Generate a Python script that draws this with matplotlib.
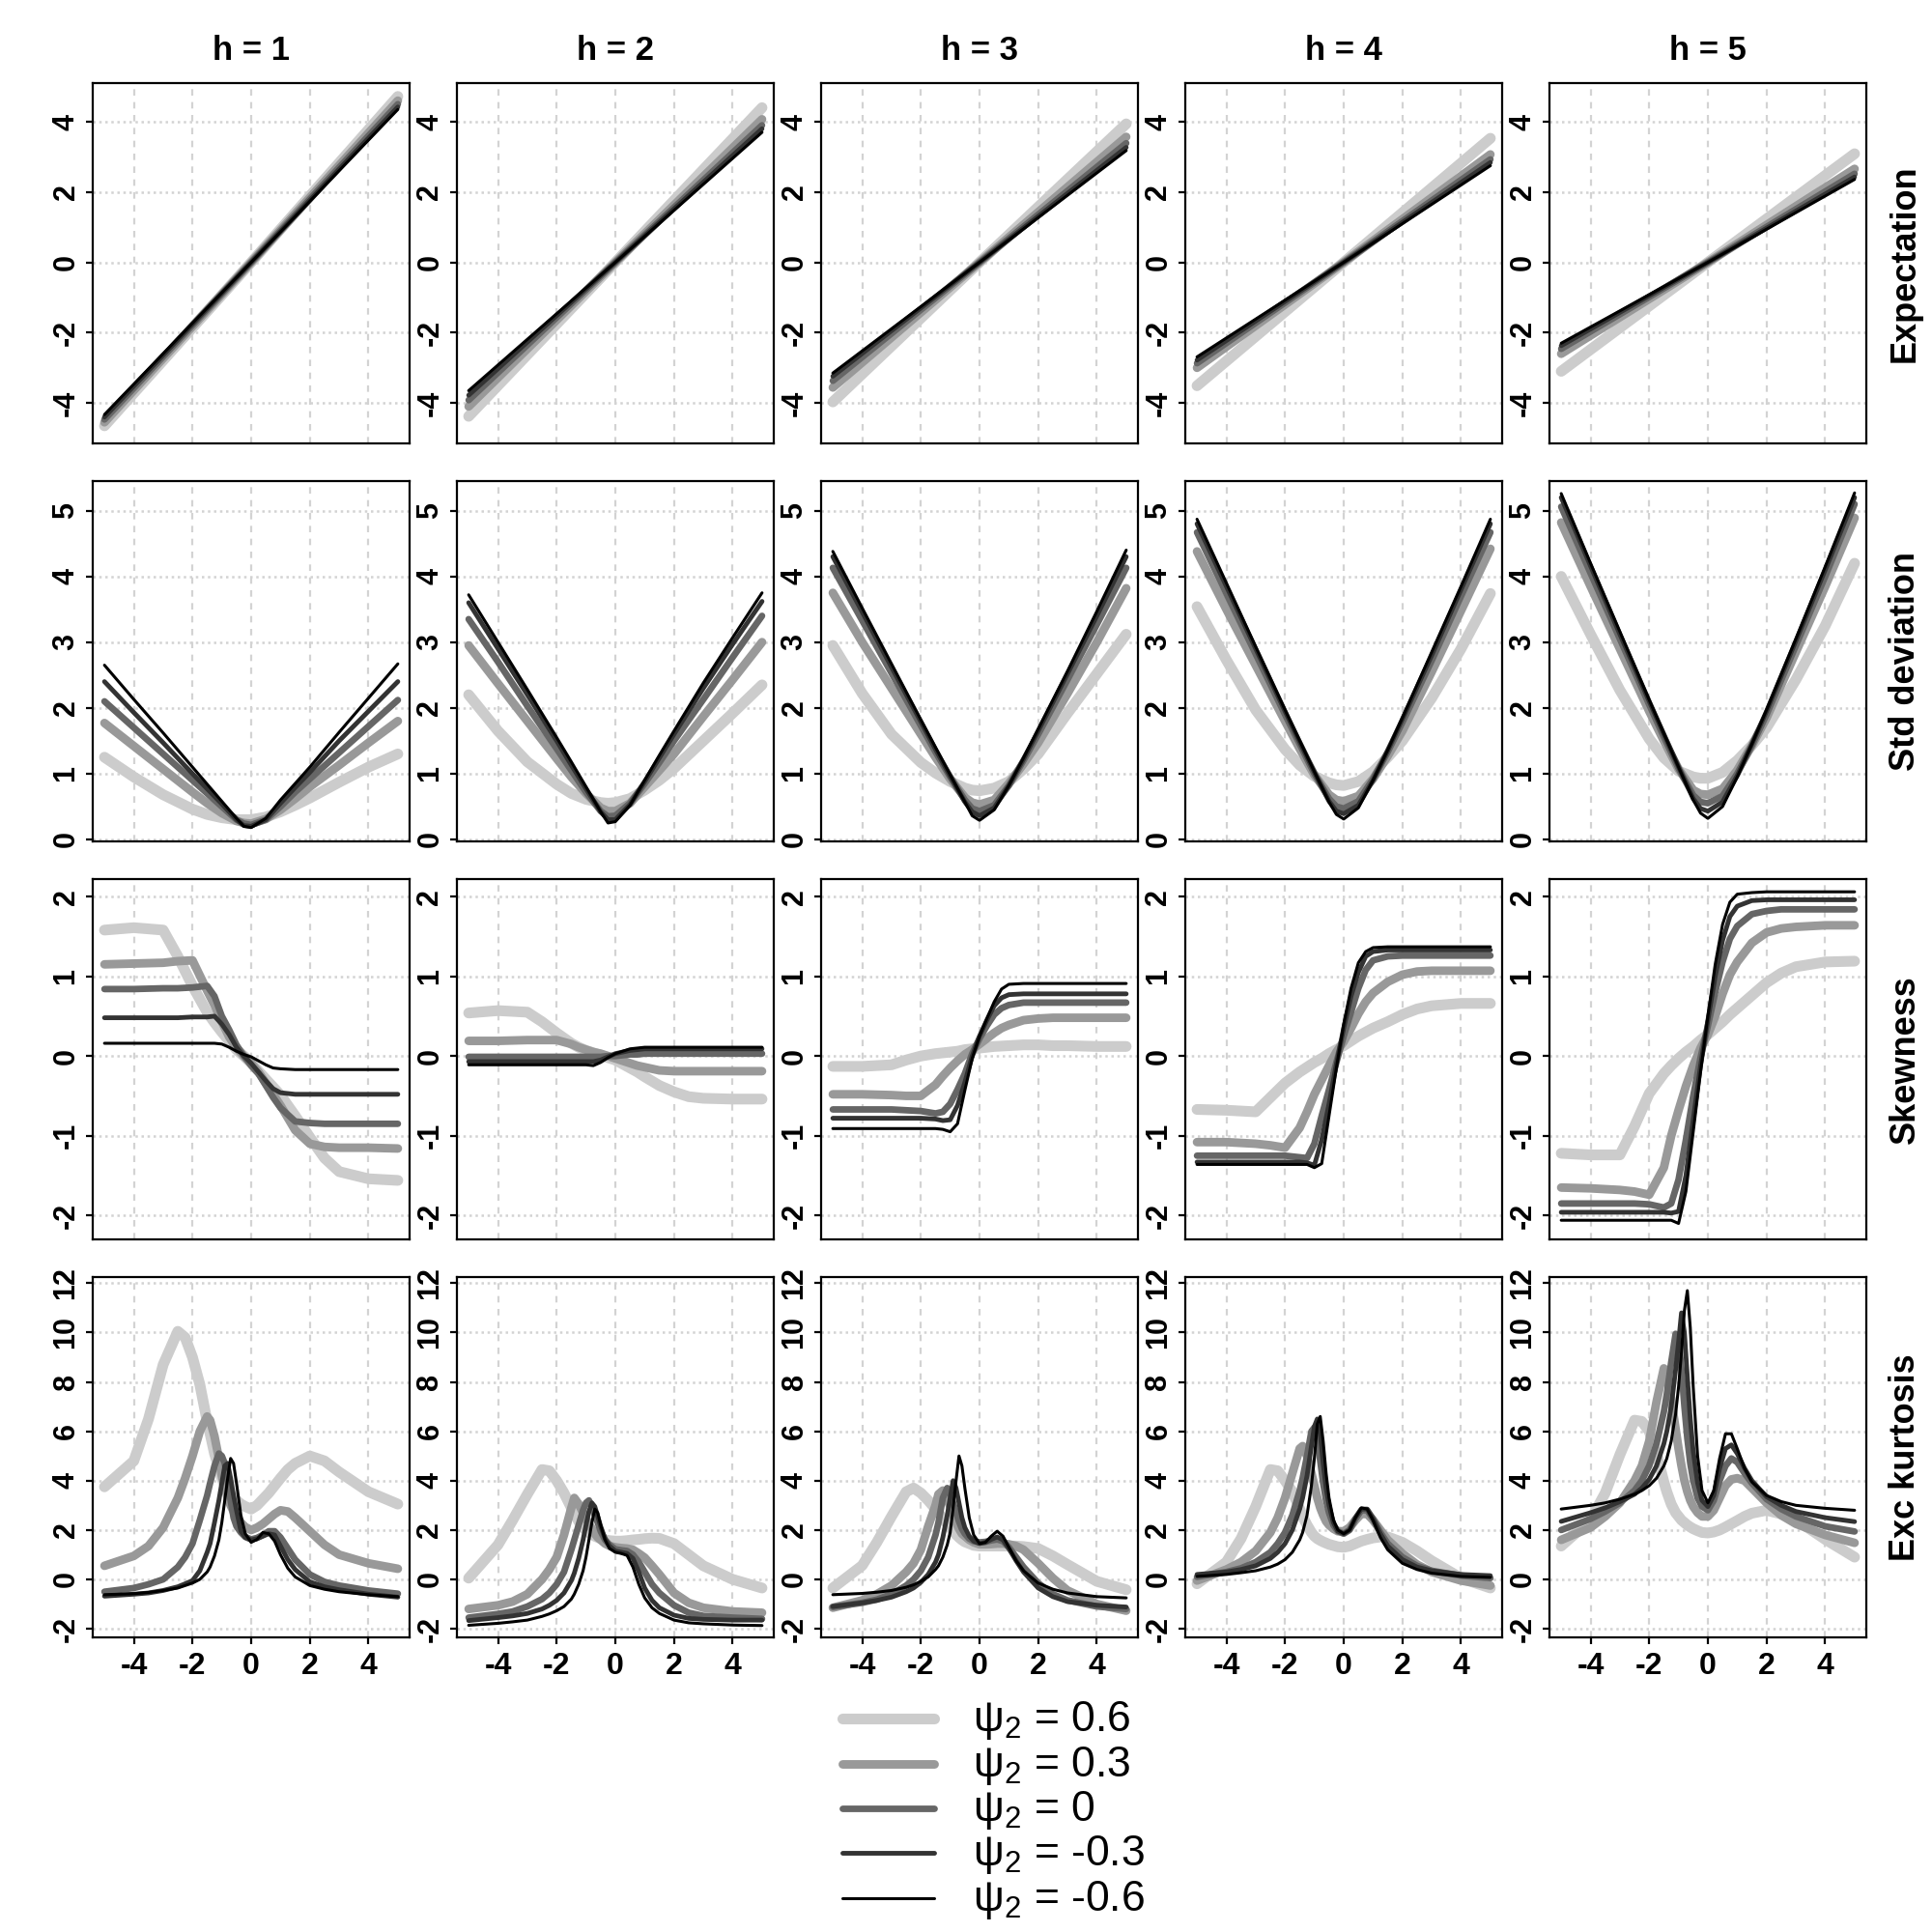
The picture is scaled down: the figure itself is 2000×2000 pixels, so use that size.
import matplotlib
matplotlib.use('Agg')
import matplotlib.pyplot as plt
from matplotlib.lines import Line2D

plt.rcParams['font.family'] = ['Liberation Sans', 'DejaVu Sans']
plt.rcParams['mathtext.fontset'] = 'custom'
plt.rcParams['mathtext.rm'] = 'Liberation Sans'
plt.rcParams['mathtext.it'] = 'Liberation Sans:italic'

# psi_2 values, drawn light/thick -> dark/thin
psi_labels = ['0.6', '0.3', '0', '-0.3', '-0.6']
line_colors = ['#cccccc', '#999999', '#666666', '#333333', '#000000']
line_widths = [4.0, 3.2, 2.45, 1.75, 1.1]
horizons = [1, 2, 3, 4, 5]
row_names = ['Expectation', 'Std deviation', 'Skewness', 'Exc kurtosis']

# ---- Expectation ----
xs_mean = [-5, 0, 5]
mean_h1 = [[-4.65, 0, 4.72], [-4.55, 0, 4.6], [-4.47, 0, 4.5], [-4.4, 0, 4.42], [-4.33, 0, 4.35]]
mean_h2 = [[-4.38, 0, 4.4], [-4.1, 0, 4.07], [-3.92, 0, 3.9], [-3.78, 0, 3.8], [-3.65, 0, 3.7]]
mean_h3 = [[-3.97, 0, 3.94], [-3.56, 0, 3.57], [-3.37, 0, 3.39], [-3.24, 0, 3.27], [-3.15, 0, 3.18]]
mean_h4 = [[-3.51, 0, 3.53], [-3.0, 0, 3.07], [-2.87, 0, 2.93], [-2.78, 0, 2.84], [-2.69, 0, 2.75]]
mean_h5 = [[-3.1, 0, 3.09], [-2.6, 0, 2.66], [-2.46, 0, 2.52], [-2.37, 0, 2.43], [-2.3, 0, 2.36]]

# ---- Std deviation ----
xs_std = [-5, -4, -3, -2, -1.5, -1, -0.5, -0.25, 0, 0.5, 1, 1.5, 2, 3, 4, 5]
std_h1 = [
    [1.25, 0.95, 0.68, 0.46, 0.38, 0.33, 0.3, 0.3, 0.3, 0.34, 0.42, 0.52, 0.63, 0.87, 1.1, 1.3],
    [1.77, 1.42, 1.07, 0.72, 0.55, 0.4, 0.28, 0.25, 0.24, 0.31, 0.45, 0.62, 0.8, 1.13, 1.47, 1.8],
    [2.1, 1.7, 1.3, 0.9, 0.7, 0.5, 0.3, 0.24, 0.22, 0.3, 0.5, 0.72, 0.92, 1.32, 1.72, 2.12],
    [2.4, 1.93, 1.47, 1.0, 0.77, 0.54, 0.3, 0.21, 0.2, 0.3, 0.55, 0.79, 1.02, 1.5, 1.95, 2.4],
    [2.65, 2.13, 1.62, 1.1, 0.84, 0.58, 0.32, 0.2, 0.18, 0.32, 0.6, 0.85, 1.1, 1.63, 2.15, 2.67],
]
std_h2 = [
    [2.2, 1.65, 1.18, 0.84, 0.7, 0.61, 0.56, 0.55, 0.56, 0.62, 0.75, 0.9, 1.08, 1.5, 1.92, 2.35],
    [2.95, 2.37, 1.8, 1.23, 0.95, 0.7, 0.48, 0.43, 0.43, 0.55, 0.8, 1.05, 1.3, 1.87, 2.43, 3.0],
    [3.35, 2.7, 2.03, 1.38, 1.05, 0.72, 0.43, 0.35, 0.36, 0.55, 0.85, 1.17, 1.5, 2.13, 2.77, 3.4],
    [3.6, 2.9, 2.2, 1.5, 1.13, 0.77, 0.42, 0.3, 0.3, 0.53, 0.88, 1.24, 1.6, 2.3, 2.97, 3.62],
    [3.72, 3.0, 2.28, 1.55, 1.18, 0.8, 0.42, 0.25, 0.27, 0.52, 0.9, 1.28, 1.65, 2.38, 3.07, 3.75],
]
std_h3 = [
    [2.95, 2.22, 1.6, 1.17, 1.01, 0.88, 0.78, 0.75, 0.74, 0.78, 0.88, 1.07, 1.3, 1.92, 2.52, 3.12],
    [3.75, 3.0, 2.3, 1.6, 1.25, 0.92, 0.64, 0.56, 0.53, 0.6, 0.85, 1.15, 1.47, 2.22, 3.0, 3.82],
    [4.13, 3.33, 2.53, 1.73, 1.33, 0.95, 0.6, 0.47, 0.43, 0.52, 0.82, 1.2, 1.6, 2.43, 3.27, 4.13],
    [4.3, 3.46, 2.62, 1.79, 1.37, 0.96, 0.57, 0.42, 0.36, 0.48, 0.82, 1.22, 1.65, 2.52, 3.4, 4.3],
    [4.38, 3.52, 2.67, 1.82, 1.4, 0.98, 0.57, 0.36, 0.29, 0.45, 0.82, 1.24, 1.68, 2.56, 3.47, 4.4],
]
std_h4 = [
    [3.54, 2.73, 1.97, 1.37, 1.13, 0.96, 0.86, 0.83, 0.82, 0.88, 1.03, 1.25, 1.5, 2.15, 2.9, 3.74],
    [4.38, 3.5, 2.65, 1.8, 1.38, 0.98, 0.68, 0.6, 0.58, 0.66, 0.92, 1.27, 1.65, 2.55, 3.48, 4.42],
    [4.67, 3.74, 2.82, 1.9, 1.45, 1.0, 0.62, 0.5, 0.47, 0.58, 0.92, 1.33, 1.78, 2.72, 3.7, 4.67],
    [4.8, 3.85, 2.9, 1.95, 1.48, 1.02, 0.58, 0.43, 0.39, 0.52, 0.9, 1.35, 1.83, 2.8, 3.8, 4.8],
    [4.87, 3.9, 2.93, 1.97, 1.5, 1.03, 0.57, 0.38, 0.31, 0.48, 0.9, 1.36, 1.85, 2.85, 3.85, 4.87],
]
std_h5 = [
    [4.0, 3.12, 2.27, 1.53, 1.24, 1.04, 0.95, 0.93, 0.93, 1.02, 1.2, 1.43, 1.7, 2.43, 3.25, 4.2],
    [4.82, 3.85, 2.9, 1.95, 1.5, 1.07, 0.75, 0.69, 0.68, 0.77, 1.05, 1.43, 1.85, 2.85, 3.85, 4.89],
    [5.06, 4.05, 3.05, 2.05, 1.56, 1.08, 0.67, 0.57, 0.55, 0.66, 1.0, 1.43, 1.9, 2.95, 4.0, 5.1],
    [5.2, 4.16, 3.12, 2.1, 1.6, 1.1, 0.62, 0.47, 0.43, 0.57, 0.97, 1.45, 1.95, 3.02, 4.1, 5.2],
    [5.26, 4.2, 3.16, 2.12, 1.61, 1.1, 0.6, 0.4, 0.32, 0.5, 0.95, 1.45, 1.97, 3.05, 4.15, 5.27],
]

# ---- Skewness ----
xs_skew = [-5, -4, -3, -2.5, -2, -1.5, -1.25, -1, -0.75, -0.5, -0.25, 0, 0.25, 0.5, 0.75, 1, 1.5, 2, 2.5, 3, 4, 5]
skew_h1 = [
    [1.58, 1.61, 1.58, 1.25, 0.88, 0.55, 0.42, 0.3, 0.19, 0.08, 0.0, -0.09, -0.19, -0.29, -0.39, -0.49, -0.75, -1.02, -1.28, -1.45, -1.54, -1.56],
    [1.15, 1.16, 1.17, 1.19, 1.2, 0.82, 0.64, 0.43, 0.24, 0.1, 0.0, -0.09, -0.2, -0.34, -0.48, -0.62, -0.93, -1.1, -1.14, -1.15, -1.15, -1.16],
    [0.84, 0.84, 0.85, 0.85, 0.86, 0.88, 0.75, 0.5, 0.33, 0.14, 0.0, -0.12, -0.22, -0.37, -0.52, -0.65, -0.82, -0.84, -0.85, -0.85, -0.85, -0.85],
    [0.48, 0.48, 0.48, 0.48, 0.49, 0.49, 0.5, 0.4, 0.27, 0.11, 0.0, -0.09, -0.2, -0.31, -0.41, -0.46, -0.48, -0.48, -0.48, -0.48, -0.48, -0.48],
    [0.16, 0.16, 0.16, 0.16, 0.16, 0.16, 0.16, 0.15, 0.11, 0.06, 0.02, -0.01, -0.06, -0.11, -0.15, -0.16, -0.17, -0.17, -0.17, -0.17, -0.17, -0.17],
]
skew_h2 = [
    [0.54, 0.57, 0.55, 0.43, 0.29, 0.16, 0.11, 0.07, 0.04, 0.01, -0.02, -0.05, -0.1, -0.15, -0.2, -0.26, -0.37, -0.45, -0.51, -0.53, -0.54, -0.54],
    [0.19, 0.19, 0.2, 0.2, 0.2, 0.15, 0.11, 0.08, 0.05, 0.03, 0.0, -0.03, -0.06, -0.09, -0.12, -0.14, -0.18, -0.19, -0.19, -0.19, -0.19, -0.19],
    [-0.01, -0.01, -0.01, -0.01, -0.01, -0.01, -0.01, -0.01, -0.01, -0.01, 0.0, 0.0, 0.01, 0.02, 0.02, 0.03, 0.03, 0.03, 0.03, 0.03, 0.03, 0.03],
    [-0.07, -0.07, -0.07, -0.07, -0.07, -0.07, -0.07, -0.07, -0.07, -0.05, -0.01, 0.03, 0.05, 0.07, 0.08, 0.09, 0.09, 0.09, 0.09, 0.09, 0.09, 0.09],
    [-0.11, -0.11, -0.11, -0.11, -0.11, -0.11, -0.11, -0.11, -0.12, -0.08, -0.02, 0.03, 0.06, 0.09, 0.1, 0.11, 0.11, 0.11, 0.11, 0.11, 0.11, 0.11],
]
skew_h3 = [
    [-0.13, -0.13, -0.11, -0.05, 0.0, 0.03, 0.04, 0.05, 0.06, 0.08, 0.09, 0.1, 0.11, 0.12, 0.125, 0.13, 0.14, 0.14, 0.13, 0.13, 0.12, 0.12],
    [-0.48, -0.48, -0.49, -0.5, -0.5, -0.36, -0.25, -0.15, -0.06, 0.02, 0.08, 0.15, 0.22, 0.29, 0.35, 0.39, 0.45, 0.47, 0.48, 0.48, 0.48, 0.48],
    [-0.67, -0.67, -0.67, -0.68, -0.69, -0.72, -0.7, -0.6, -0.42, -0.22, 0.03, 0.22, 0.38, 0.52, 0.6, 0.64, 0.67, 0.67, 0.67, 0.67, 0.67, 0.67],
    [-0.78, -0.78, -0.78, -0.78, -0.78, -0.79, -0.81, -0.8, -0.62, -0.33, 0.0, 0.25, 0.45, 0.63, 0.73, 0.77, 0.78, 0.78, 0.78, 0.78, 0.78, 0.78],
    [-0.91, -0.91, -0.91, -0.91, -0.91, -0.91, -0.92, -0.95, -0.85, -0.43, -0.03, 0.25, 0.47, 0.68, 0.84, 0.9, 0.91, 0.91, 0.91, 0.91, 0.91, 0.91],
]
skew_h4 = [
    [-0.67, -0.68, -0.7, -0.52, -0.34, -0.2, -0.14, -0.08, -0.03, 0.03, 0.08, 0.13, 0.19, 0.25, 0.3, 0.35, 0.43, 0.52, 0.59, 0.63, 0.66, 0.66],
    [-1.08, -1.08, -1.1, -1.12, -1.15, -0.9, -0.7, -0.48, -0.3, -0.12, 0.05, 0.18, 0.35, 0.53, 0.68, 0.79, 0.93, 1.02, 1.06, 1.07, 1.07, 1.07],
    [-1.25, -1.25, -1.25, -1.25, -1.25, -1.27, -1.28, -1.1, -0.75, -0.42, -0.08, 0.25, 0.55, 0.85, 1.08, 1.2, 1.25, 1.26, 1.26, 1.26, 1.26, 1.26],
    [-1.33, -1.33, -1.33, -1.33, -1.33, -1.33, -1.34, -1.37, -1.05, -0.6, -0.1, 0.35, 0.75, 1.05, 1.25, 1.31, 1.33, 1.33, 1.33, 1.33, 1.33, 1.33],
    [-1.36, -1.36, -1.36, -1.36, -1.36, -1.36, -1.36, -1.4, -1.35, -0.75, -0.15, 0.4, 0.85, 1.17, 1.31, 1.36, 1.37, 1.37, 1.37, 1.37, 1.37, 1.37],
]
skew_h5 = [
    [-1.22, -1.24, -1.24, -0.88, -0.47, -0.22, -0.12, -0.03, 0.05, 0.12, 0.2, 0.27, 0.35, 0.43, 0.52, 0.6, 0.76, 0.92, 1.04, 1.12, 1.18, 1.19],
    [-1.65, -1.66, -1.68, -1.7, -1.74, -1.4, -1.0, -0.68, -0.38, -0.12, 0.1, 0.27, 0.5, 0.78, 1.02, 1.18, 1.42, 1.55, 1.6, 1.62, 1.64, 1.64],
    [-1.85, -1.85, -1.85, -1.85, -1.86, -1.9, -1.85, -1.55, -1.05, -0.5, -0.02, 0.38, 0.8, 1.18, 1.47, 1.63, 1.78, 1.82, 1.84, 1.84, 1.84, 1.84],
    [-1.96, -1.96, -1.96, -1.96, -1.96, -1.96, -1.97, -1.95, -1.5, -0.8, -0.12, 0.45, 1.0, 1.45, 1.75, 1.88, 1.95, 1.96, 1.96, 1.96, 1.96, 1.96],
    [-2.06, -2.06, -2.06, -2.06, -2.06, -2.06, -2.06, -2.1, -1.7, -0.95, -0.2, 0.5, 1.15, 1.65, 1.93, 2.03, 2.05, 2.06, 2.06, 2.06, 2.06, 2.06],
]

# ---- Excess kurtosis ----
xs_kurt = [-5, -4, -3.5, -3, -2.5, -2.25, -2, -1.75, -1.5, -1.4, -1.25, -1.1, -1, -0.9, -0.8, -0.7, -0.6,
           -0.5, -0.35, -0.2, 0, 0.2, 0.4, 0.6, 0.8, 1, 1.25, 1.5, 2, 2.5, 3, 4, 5]
kurt_h1 = [
    [3.75, 4.8, 6.5, 8.7, 10.05, 9.8, 9.0, 7.9, 6.4, 5.9, 5.1, 4.5, 4.1, 3.8, 3.6, 3.45, 3.3, 3.2, 3.05, 2.95, 2.85, 3.0, 3.25, 3.5, 3.8, 4.1, 4.45, 4.7, 5.0, 4.8, 4.35, 3.55, 3.05],
    [0.55, 0.95, 1.35, 2.1, 3.3, 4.1, 5.0, 6.0, 6.6, 6.45, 5.8, 4.9, 4.2, 3.75, 3.3, 3.0, 2.75, 2.55, 2.3, 2.12, 2.0, 2.1, 2.25, 2.45, 2.65, 2.8, 2.75, 2.5, 1.95, 1.4, 1.0, 0.65, 0.43],
    [-0.5, -0.35, -0.2, 0.0, 0.5, 0.9, 1.45, 2.4, 3.4, 3.9, 4.6, 5.1, 5.0, 4.7, 4.0, 3.2, 2.5, 2.15, 1.9, 1.72, 1.62, 1.68, 1.8, 1.95, 1.95, 1.7, 1.25, 0.8, 0.2, -0.1, -0.25, -0.45, -0.58],
    [-0.68, -0.6, -0.55, -0.45, -0.3, -0.18, -0.05, 0.35, 1.1, 1.45, 2.3, 3.2, 3.9, 4.6, 4.7, 4.1, 3.4, 2.8, 1.95, 1.7, 1.6, 1.65, 1.75, 1.85, 1.8, 1.35, 0.8, 0.4, -0.1, -0.3, -0.42, -0.6, -0.72],
    [-0.62, -0.58, -0.53, -0.45, -0.35, -0.25, -0.15, 0.0, 0.3, 0.5, 0.95, 1.6, 2.3, 3.2, 4.1, 4.9, 4.7, 3.9, 2.6, 1.85, 1.5, 1.62, 1.9, 1.85, 1.55, 1.0, 0.45, 0.1, -0.25, -0.4, -0.5, -0.62, -0.7],
]
kurt_h2 = [
    [0.05, 1.4, 2.4, 3.45, 4.45, 4.4, 4.0, 3.5, 2.9, 2.7, 2.35, 2.1, 2.0, 1.9, 1.82, 1.75, 1.7, 1.66, 1.6, 1.57, 1.55, 1.55, 1.57, 1.6, 1.62, 1.65, 1.67, 1.66, 1.45, 1.0, 0.55, 0.0, -0.35],
    [-1.2, -1.05, -0.9, -0.6, 0.0, 0.4, 0.9, 1.8, 2.9, 3.3, 3.05, 2.7, 2.45, 2.25, 2.05, 1.85, 1.7, 1.6, 1.45, 1.36, 1.3, 1.27, 1.25, 1.2, 1.05, 0.88, 0.55, 0.2, -0.55, -0.95, -1.15, -1.3, -1.35],
    [-1.55, -1.4, -1.3, -1.1, -0.8, -0.55, -0.2, 0.3, 1.2, 1.6, 2.2, 2.8, 3.1, 3.2, 2.95, 2.6, 2.3, 1.95, 1.6, 1.4, 1.22, 1.18, 1.15, 1.0, 0.7, 0.3, -0.2, -0.55, -1.05, -1.35, -1.48, -1.55, -1.6],
    [-1.67, -1.55, -1.48, -1.38, -1.2, -1.05, -0.85, -0.55, -0.05, 0.25, 0.85, 1.6, 2.2, 2.75, 3.1, 2.95, 2.55, 2.15, 1.65, 1.35, 1.15, 1.1, 1.05, 0.85, 0.3, -0.35, -0.85, -1.15, -1.45, -1.58, -1.62, -1.65, -1.65],
    [-1.86, -1.78, -1.72, -1.65, -1.5, -1.4, -1.27, -1.1, -0.8, -0.6, -0.2, 0.35, 0.9, 1.6, 2.3, 2.85, 2.7, 2.2, 1.6, 1.25, 1.1, 1.05, 0.97, 0.5, -0.2, -0.75, -1.15, -1.38, -1.65, -1.76, -1.8, -1.85, -1.87],
]
kurt_h3 = [
    [-0.35, 0.56, 1.5, 2.55, 3.55, 3.7, 3.5, 3.2, 2.85, 2.7, 2.45, 2.25, 2.1, 1.95, 1.82, 1.7, 1.6, 1.52, 1.45, 1.38, 1.35, 1.35, 1.35, 1.35, 1.35, 1.35, 1.35, 1.33, 1.25, 0.95, 0.6, -0.08, -0.42],
    [-1.15, -0.85, -0.6, -0.25, 0.3, 0.65, 1.2, 2.15, 3.0, 3.45, 3.6, 3.25, 2.95, 2.6, 2.3, 2.05, 1.85, 1.75, 1.6, 1.5, 1.42, 1.42, 1.43, 1.45, 1.45, 1.42, 1.35, 1.2, 0.65, 0.05, -0.45, -1.0, -1.27],
    [-1.12, -0.95, -0.82, -0.6, -0.25, 0.0, 0.35, 0.9, 1.8, 2.3, 3.3, 3.7, 3.5, 3.1, 2.7, 2.35, 2.05, 1.85, 1.65, 1.55, 1.5, 1.52, 1.58, 1.62, 1.55, 1.3, 0.9, 0.5, -0.15, -0.6, -0.85, -1.1, -1.2],
    [-1.1, -0.95, -0.85, -0.72, -0.5, -0.35, -0.12, 0.2, 0.7, 1.0, 1.7, 2.6, 3.3, 4.0, 3.7, 3.1, 2.5, 2.1, 1.75, 1.55, 1.45, 1.5, 1.62, 1.72, 1.6, 1.25, 0.75, 0.3, -0.35, -0.7, -0.9, -1.05, -1.12],
    [-0.62, -0.57, -0.52, -0.45, -0.32, -0.22, -0.08, 0.1, 0.4, 0.55, 0.9, 1.4, 1.9, 2.9, 4.0, 5.0, 4.6, 3.7, 2.5, 1.8, 1.45, 1.5, 1.75, 1.95, 1.75, 1.3, 0.75, 0.35, -0.15, -0.4, -0.55, -0.7, -0.75],
]
kurt_h4 = [
    [-0.18, 0.7, 1.65, 2.95, 4.45, 4.4, 4.0, 3.55, 2.85, 2.55, 2.2, 1.9, 1.75, 1.65, 1.58, 1.52, 1.47, 1.42, 1.37, 1.32, 1.3, 1.35, 1.45, 1.55, 1.62, 1.68, 1.72, 1.72, 1.5, 1.15, 0.75, 0.05, -0.35],
    [-0.05, 0.4, 0.7, 1.15, 1.9, 2.5, 3.3, 4.3, 5.3, 5.4, 5.0, 4.3, 3.8, 3.3, 2.9, 2.6, 2.35, 2.2, 2.05, 1.95, 1.95, 2.1, 2.4, 2.65, 2.65, 2.4, 2.0, 1.6, 1.05, 0.6, 0.3, -0.05, -0.25],
    [0.1, 0.3, 0.45, 0.7, 1.1, 1.45, 1.9, 2.6, 3.6, 4.1, 5.0, 6.0, 6.15, 5.7, 4.8, 3.9, 3.2, 2.7, 2.2, 1.95, 1.85, 2.0, 2.45, 2.8, 2.8, 2.45, 1.9, 1.45, 0.9, 0.55, 0.35, 0.15, 0.05],
    [0.2, 0.3, 0.4, 0.55, 0.85, 1.1, 1.45, 2.0, 2.85, 3.3, 4.2, 5.4, 6.2, 6.5, 5.9, 4.7, 3.7, 3.0, 2.3, 1.95, 1.85, 2.0, 2.5, 2.85, 2.85, 2.45, 1.85, 1.35, 0.8, 0.5, 0.35, 0.2, 0.15],
    [0.12, 0.2, 0.27, 0.35, 0.5, 0.62, 0.8, 1.1, 1.6, 1.9, 2.6, 3.8, 4.9, 6.3, 6.6, 5.6, 4.3, 3.3, 2.4, 2.0, 1.85, 2.0, 2.5, 2.9, 2.85, 2.4, 1.7, 1.2, 0.65, 0.4, 0.25, 0.12, 0.08],
]
kurt_h5 = [
    [1.35, 2.4, 3.5, 5.05, 6.45, 6.4, 6.0, 5.1, 3.95, 3.55, 3.05, 2.7, 2.55, 2.4, 2.3, 2.2, 2.12, 2.05, 1.97, 1.9, 1.88, 1.92, 2.0, 2.12, 2.25, 2.38, 2.55, 2.68, 2.8, 2.65, 2.42, 1.62, 0.9],
    [1.6, 2.1, 2.55, 3.1, 4.0, 4.6, 5.6, 7.2, 8.55, 8.3, 7.3, 6.1, 5.3, 4.6, 4.0, 3.55, 3.2, 2.95, 2.7, 2.55, 2.55, 2.8, 3.3, 3.8, 4.05, 4.1, 4.0, 3.7, 3.1, 2.6, 2.25, 1.8, 1.48],
    [2.0, 2.45, 2.75, 3.1, 3.6, 4.0, 4.6, 5.5, 6.8, 7.5, 8.8, 9.95, 9.7, 8.5, 7.0, 5.7, 4.7, 4.0, 3.3, 2.95, 2.8, 3.2, 4.0, 4.6, 4.9, 4.75, 4.3, 3.9, 3.25, 2.85, 2.55, 2.15, 1.94],
    [2.35, 2.7, 2.9, 3.15, 3.45, 3.7, 4.05, 4.6, 5.5, 6.0, 7.0, 8.5, 9.6, 10.8, 10.0, 8.2, 6.5, 5.2, 3.9, 3.2, 2.95, 3.4, 4.5, 5.3, 5.45, 5.1, 4.5, 4.0, 3.35, 3.0, 2.75, 2.5, 2.34],
    [2.85, 3.0, 3.1, 3.25, 3.45, 3.6, 3.8, 4.1, 4.6, 4.9, 5.6, 6.7, 7.8, 9.2, 10.9, 11.7, 10.2, 7.8, 5.0, 3.6, 3.1, 3.6, 4.9, 5.9, 5.9, 5.3, 4.5, 3.95, 3.4, 3.15, 3.0, 2.88, 2.8],
]

rows = [
    (xs_mean, [mean_h1, mean_h2, mean_h3, mean_h4, mean_h5], (-5.15, 5.1), [-4, -2, 0, 2, 4]),
    (xs_std, [std_h1, std_h2, std_h3, std_h4, std_h5], (-0.03, 5.45), [0, 1, 2, 3, 4, 5]),
    (xs_skew, [skew_h1, skew_h2, skew_h3, skew_h4, skew_h5], (-2.3, 2.22), [-2, -1, 0, 1, 2]),
    (xs_kurt, [kurt_h1, kurt_h2, kurt_h3, kurt_h4, kurt_h5], (-2.35, 12.25), [-2, 0, 2, 4, 6, 8, 10, 12]),
]
x_ticks = [-4, -2, 0, 2, 4]

W = 2000.0
col_left = [96, 473, 850, 1227, 1604]
row_top = [86, 498, 910, 1322]
pw, ph = 328, 373

fig = plt.figure(figsize=(10, 10), dpi=200)

for r, (xs, panels, ylim, yticks) in enumerate(rows):
    for c in range(5):
        ax = fig.add_axes([col_left[c] / W, 1 - (row_top[r] + ph) / W, pw / W, ph / W])
        for t in x_ticks:
            ax.axvline(t, color='#d3d3d3', lw=0.8, ls=(0, (3, 3)), zorder=1)
        for t in yticks:
            ax.axhline(t, color='#d3d3d3', lw=0.9, ls=(0, (1, 1.5)), zorder=1)
        for k in range(5):
            ax.plot(xs, panels[c][k], color=line_colors[k], lw=line_widths[k],
                    solid_capstyle='round', solid_joinstyle='round', zorder=3 + k)
        ax.set_xlim(-5.4, 5.4)
        ax.set_ylim(*ylim)
        ax.set_xticks(x_ticks)
        ax.set_yticks(yticks)
        ax.set_yticklabels([str(t) for t in yticks], fontsize=11, fontweight='bold',
                           rotation=90, va='center')
        ax.tick_params(axis='y', length=2.5, width=0.8, pad=2)
        if r == 3:
            ax.set_xticklabels([str(t) for t in x_ticks], fontsize=11.5, fontweight='bold')
            ax.tick_params(axis='x', length=2.5, width=0.8, pad=3)
        else:
            ax.tick_params(axis='x', bottom=False, labelbottom=False)
        for s in ax.spines.values():
            s.set_linewidth(0.8)
        if r == 0:
            fig.text((col_left[c] + pw / 2) / W, 1 - 52 / W, 'h = %d' % horizons[c],
                     ha='center', va='center', fontsize=12.5, fontweight='bold')
    fig.text(1972 / W, 1 - (row_top[r] + ph / 2) / W, row_names[r], rotation=90,
             ha='center', va='center', fontsize=13, fontweight='bold')

# legend under the panels
leg_y = [1779, 1826, 1872, 1918, 1965]
for k in range(5):
    y = 1 - leg_y[k] / W
    fig.add_artist(Line2D([872 / W, 967 / W], [y, y], transform=fig.transFigure,
                          color=line_colors[k], lw=line_widths[k], solid_capstyle='round'))
    fig.text(1007 / W, y - 13 / W, r'$\mathrm{\psi}_{2}$' + ' = ' + psi_labels[k],
             ha='left', va='baseline', fontsize=16)

fig.savefig('out.png', dpi=200)
